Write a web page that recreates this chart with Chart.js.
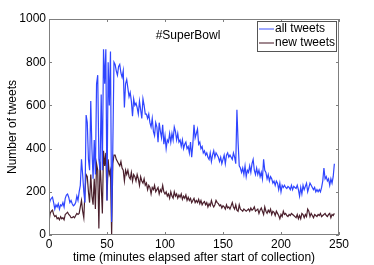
<!DOCTYPE html>
<html>
<head>
<meta charset="utf-8">
<script src="https://cdn.jsdelivr.net/npm/chart.js@4/dist/chart.umd.min.js"></script>
<style>
  html, body { margin: 0; padding: 0; background: #fff; }
  #wrap { width: 374px; height: 265px; }
</style>
</head>
<body>
<div id="wrap"><canvas id="tweetsChart" width="374" height="265"></canvas></div>
<script>
// #SuperBowl tweets per minute
const allTweets = [
  140,160,170,175,150,120,140,130,145,120, 140,135,150,130,170,185,190,175,150,160,
  145,135,140,150,180,160,200,230,350,280, 200,150,555,520,350,300,620,400,260,440,
  280,700,740,350,300,650,300,860,700,860, 160,800,600,850,60,400,800,790,760,740,
  780,790,750,730,760,590,700,720,680,640, 660,620,550,630,600,610,590,560,620,580,
  540,630,600,560,560,540,560,520,500,540, 480,460,520,500,430,520,480,450,510,420,
  460,400,440,430,470,430,470,440,500,480, 440,470,430,440,410,440,400,420,430,400,
  410,380,430,360,420,510,450,470,490,420, 430,400,410,380,390,370,380,360,350,380,
  340,370,390,360,380,370,360,340,360,330, 350,370,330,370,380,360,370,360,350,380,
  360,330,580,430,320,310,290,310,280,320, 270,300,290,320,290,330,350,300,280,310,
  280,300,270,290,260,350,300,290,260,280, 250,270,260,240,250,230,250,240,210,240,
  200,230,220,230,220,215,225,220,210,230, 210,225,220,215,230,210,180,220,190,230,
  210,225,240,200,220,240,230,220,210,220, 200,210,200,210,200,220,250,310,260,270,
  250,260,230,260,240,270,330
];
const newTweets = [
  60,100,110,115,95,85,90,75,80,70, 85,75,80,70,95,100,105,95,90,80,
  80,85,80,90,100,95,100,130,160,110, 80,200,280,270,200,150,280,180,140,260,
  120,330,300,30,340,230,100,390,320,380, 160,350,280,300,0,330,370,370,350,340,
  330,320,340,310,300,250,300,280,300,270, 260,290,250,280,270,250,280,260,230,270,
  250,240,260,230,240,210,230,220,190,220, 210,230,200,210,220,190,210,200,230,200,
  190,200,180,190,170,200,180,170,200,180, 190,170,185,175,190,165,180,170,185,160,
  175,160,170,150,160,170,150,160,150,165, 145,160,140,150,155,140,150,130,145,135,
  160,140,130,140,160,150,145,135,140,125, 135,130,120,140,125,130,120,135,150,130,
  120,140,115,110,140,120,115,110,120,115, 110,115,120,110,125,115,120,130,110,115,
  120,100,115,125,110,95,130,110,100,115, 105,120,95,110,105,90,110,100,90,75,
  95,85,110,95,100,90,85,95,90,100, 95,90,85,80,95,75,90,75,100,95,
  80,95,85,120,110,85,100,90,80,95, 90,85,95,90,100,85,90,95,100,90,
  85,95,100,80,95,90,100
];
const minutes = allTweets.map((_, i) => i);
const xTicks = [0, 50, 100, 150, 200, 250];
const yTicks = [0, 200, 400, 600, 800, 1000];

const FONT = 'Liberation Sans, Arial, Helvetica, sans-serif';

// matlab style box, inward ticks, title and legend
const matlabBox = {
  id: 'matlabBox',
  afterDraw(chart) {
    const ctx = chart.ctx;
    const a = chart.chartArea;
    const xs = chart.scales.x, ys = chart.scales.y;
    ctx.save();
    ctx.strokeStyle = '#7f7f7f';
    ctx.lineWidth = 1;
    ctx.strokeRect(a.left + 0.5, a.top + 0.5, a.right - a.left - 1, a.bottom - a.top - 1);
    ctx.beginPath();
    xTicks.forEach(v => {
      const px = Math.round(xs.getPixelForValue(v)) + 0.5;
      ctx.moveTo(px, a.bottom); ctx.lineTo(px, a.bottom - 3);
      ctx.moveTo(px, a.top); ctx.lineTo(px, a.top + 3);
    });
    yTicks.forEach(v => {
      const py = Math.round(ys.getPixelForValue(v)) + 0.5;
      ctx.moveTo(a.left, py); ctx.lineTo(a.left + 3, py);
      ctx.moveTo(a.right, py); ctx.lineTo(a.right - 3, py);
    });
    ctx.stroke();

    // title inside the axes
    ctx.fillStyle = '#000';
    ctx.font = '12px ' + FONT;
    ctx.textAlign = 'center';
    ctx.textBaseline = 'middle';
    ctx.fillText('#SuperBowl', 188, 36);

    // legend box
    const lx = 257, ly = 21, lw = 79, lh = 30;
    ctx.fillStyle = '#fff';
    ctx.fillRect(lx, ly, lw, lh);
    ctx.strokeStyle = '#555';
    ctx.lineWidth = 1;
    ctx.strokeRect(lx + 0.5, ly + 0.5, lw, lh);
    ctx.textAlign = 'left';
    chart.data.datasets.forEach((ds, i) => {
      const y = ly + 8 + i * 14;
      ctx.strokeStyle = ds.legendColor;
      ctx.lineWidth = 1.5;
      ctx.beginPath();
      ctx.moveTo(lx + 2, y); ctx.lineTo(lx + 17, y);
      ctx.stroke();
      ctx.fillStyle = '#000';
      ctx.fillText(ds.label, lx + 18, y);
    });
    ctx.restore();
  }
};

new Chart(document.getElementById('tweetsChart').getContext('2d'), {
  type: 'line',
  data: {
    datasets: [
      { label: 'all tweets', data: minutes.map((m, i) => ({ x: m, y: allTweets[i] })),
        borderColor: '#2f45ff', legendColor: '#7f8cff', borderWidth: 1.2, pointRadius: 0, tension: 0 },
      { label: 'new tweets', data: minutes.map((m, i) => ({ x: m, y: newTweets[i] })),
        borderColor: '#4a1f2c', legendColor: '#80606a', borderWidth: 1.2, pointRadius: 0, tension: 0 }
    ]
  },
  options: {
    responsive: false,
    animation: false,
    layout: { padding: { top: 19, right: 35, left: 0, bottom: 0 } },
    plugins: { legend: { display: false }, tooltip: { enabled: false } },
    scales: {
      x: {
        type: 'linear', min: 0, max: 250,
        afterBuildTicks: s => { s.ticks = xTicks.map(v => ({ value: v })); },
        afterFit: s => { s.height = 30; },
        grid: { display: false, drawTicks: false }, border: { display: false },
        ticks: { color: '#000', font: { family: FONT, size: 12 }, padding: 2, maxRotation: 0,
                 callback: v => String(v) },
        title: { display: true, text: 'time (minutes elapsed after start of collection)',
                 color: '#000', font: { family: FONT, size: 12 }, padding: 0 }
      },
      y: {
        min: 0, max: 1000,
        afterBuildTicks: s => { s.ticks = yTicks.map(v => ({ value: v })); },
        afterFit: s => { s.width = 49; },
        grid: { display: false, drawTicks: false }, border: { display: false },
        ticks: { color: '#000', font: { family: FONT, size: 12 }, padding: 3,
                 callback: v => String(v) },
        title: { display: true, text: 'Number of tweets',
                 color: '#000', font: { family: FONT, size: 12 }, padding: { top: 5, bottom: 0 } }
      }
    }
  },
  plugins: [matlabBox]
});
</script>
</body>
</html>
